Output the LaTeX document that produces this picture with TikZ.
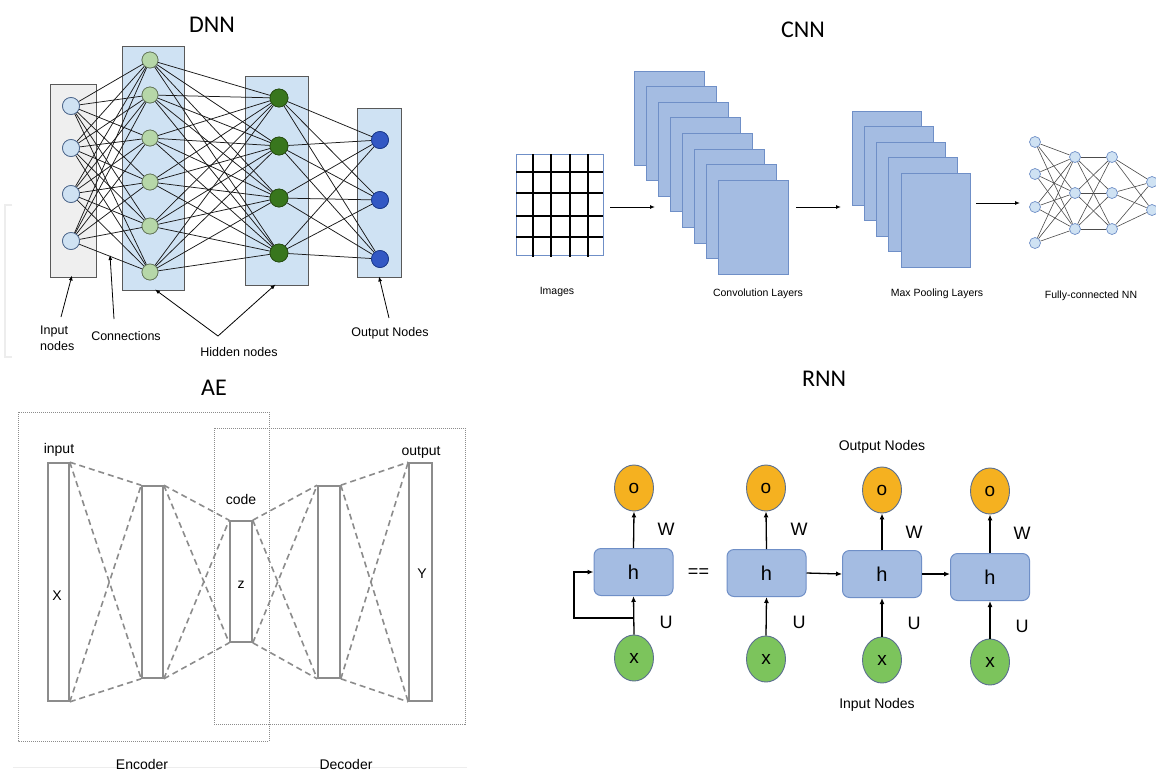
\documentclass[tikz,border=0pt]{standalone}
\usepackage{fontspec}
\setmainfont{Liberation Sans}
\newfontfamily\titlefont{Carlito}
\usetikzlibrary{arrows.meta,shapes.geometric}
\definecolor{dnnblue}{HTML}{CFE2F3}
\definecolor{dnngray}{HTML}{EFEFEF}
\definecolor{lgreen}{HTML}{B6D7A8}
\definecolor{dgreen}{HTML}{38761D}
\definecolor{dgreendraw}{HTML}{274E13}
\definecolor{oblue}{HTML}{3358C4}
\definecolor{obluedraw}{HTML}{1C3A8A}
\definecolor{nodedraw}{HTML}{4A6489}
\definecolor{layerfill}{HTML}{A4BCE2}
\definecolor{layerdraw}{HTML}{6F8FC7}
\definecolor{ofill}{HTML}{F5B120}
\definecolor{xfill}{HTML}{7CC45C}
\definecolor{ringc}{HTML}{5B6F8E}
\definecolor{aegray}{HTML}{8C8C8C}
\definecolor{faint}{HTML}{EDEDED}
\tikzset{
  ttl/.style={font=\titlefont\fontsize{24}{26}\selectfont, inner sep=0pt},
  dnnlab/.style={font=\fontsize{12.5}{14}\selectfont, inner sep=0pt},
  cnnlab/.style={font=\fontsize{10.5}{12}\selectfont, inner sep=0pt},
  aelab/.style={font=\fontsize{14}{16}\selectfont, inner sep=0pt},
  rnnlab/.style={font=\fontsize{14}{16}\selectfont, inner sep=0pt},
  rnnsym/.style={font=\fontsize{18}{20}\selectfont, inner sep=0pt},
  layerbox/.style={rectangle, draw=black!65, line width=0.9pt, inner sep=0pt},
  conn/.style={draw=black!90, line width=0.75pt},
  inode/.style={circle, draw=nodedraw, fill=dnnblue, line width=0.7pt, minimum size=17pt, inner sep=0pt},
  hnodeA/.style={circle, draw=black!45!lgreen, fill=lgreen, line width=0.7pt, minimum size=16pt, inner sep=0pt},
  hnodeB/.style={circle, draw=dgreendraw, fill=dgreen, line width=0.7pt, minimum size=18pt, inner sep=0pt},
  onode/.style={circle, draw=obluedraw, fill=oblue, line width=0.7pt, minimum size=17pt, inner sep=0pt},
  pointer/.style={draw=black, line width=0.8pt, -{Latex[length=5pt,width=4pt]}},
  fmap/.style={rectangle, draw=layerdraw, fill=layerfill, line width=0.8pt, inner sep=0pt},
  fcnode/.style={circle, draw=layerdraw, fill=dnnblue, line width=0.7pt, minimum size=11pt, inner sep=0pt},
  fcline/.style={draw=black!70, line width=0.6pt},
  cnnarrow/.style={draw=black, line width=1pt, -{Latex[length=5pt,width=4pt]}},
  aedot/.style={draw=black!45, line width=0.8pt, dash pattern=on 1pt off 1pt},
  aebar/.style={rectangle, draw=black!45, line width=1.6pt, fill=white, inner sep=0pt},
  aedash/.style={draw=aegray, line width=1.6pt, dash pattern=on 6pt off 4pt},
  ocirc/.style={ellipse, draw=ringc, fill=ofill, line width=0.9pt, minimum width=39pt, minimum height=46pt, inner sep=0pt, font=\fontsize{19}{20}\selectfont},
  xcirc/.style={ellipse, draw=ringc, fill=xfill, line width=0.9pt, minimum width=39pt, minimum height=46pt, inner sep=0pt, font=\fontsize{19}{20}\selectfont},
  hbox/.style={rectangle, rounded corners=7pt, draw=layerdraw, fill=layerfill, line width=1pt, minimum width=79pt, minimum height=47pt, inner sep=0pt, font=\fontsize{20}{22}\selectfont},
  rnnarrow/.style={draw=black, line width=1.3pt, -{Latex[length=6pt,width=5pt]}},
}
\begin{document}
\begin{tikzpicture}[x=1pt,y=-1pt]
\useasboundingbox (0,0) rectangle (1156,772);
\fill[white] (0,0) rectangle (1156,772);

% ---------------- faint page artefacts
\draw[faint, line width=1.5pt] (12,205) -- (5,205) -- (5,357) -- (12,357);
\draw[faint, line width=1pt] (13,767) -- (467,767);

% ================= DNN
\node[ttl] (tdnn) at (212,25) {DNN};
\node[layerbox, fill=dnngray, minimum width=46pt, minimum height=193pt] (inbox) at (73,180.5) {};
\node[layerbox, fill=dnnblue, minimum width=62pt, minimum height=244pt] (h1box) at (153,168) {};
\node[layerbox, fill=dnnblue, minimum width=63pt, minimum height=209pt] (h2box) at (276.5,180.5) {};
\node[layerbox, fill=dnnblue, minimum width=44pt, minimum height=169pt] (outbox) at (379,192.5) {};

\foreach \y [count=\i] in {106,148,194,241} \coordinate (ci\i) at (71,\y);
\foreach \y [count=\i] in {60,95,138,182,226,272} \coordinate (ca\i) at (150,\y);
\foreach \y [count=\i] in {98,146,198,253} \coordinate (cb\i) at (279,\y);
\foreach \y [count=\i] in {140,200,259} \coordinate (co\i) at (380,\y);

\foreach \i in {1,...,4} \node[inode] (i\i) at (ci\i) {};
\foreach \i in {1,...,6} \node[hnodeA] (a\i) at (ca\i) {};
\foreach \i in {1,...,4} \node[hnodeB] (b\i) at (cb\i) {};
\foreach \i in {1,...,3} \node[onode] (o\i) at (co\i) {};

\foreach \i in {1,...,4} \foreach \j in {1,...,6} \draw[conn] (i\i) -- (a\j);
\foreach \i in {1,...,6} \foreach \j in {1,...,4} \draw[conn] (a\i) -- (b\j);
\foreach \i in {1,...,4} \foreach \j in {1,...,3} \draw[conn] (b\i) -- (o\j);
% redraw node discs on top of the connections
\foreach \i in {1,...,4} \node[inode] at (ci\i) {};
\foreach \i in {1,...,6} \node[hnodeA] at (ca\i) {};
\foreach \i in {1,...,4} \node[hnodeB] at (cb\i) {};
\foreach \i in {1,...,3} \node[onode] at (co\i) {};

\node[dnnlab, align=left, anchor=west] (linput) at (40,338) {Input\\[2pt]nodes};
\node[dnnlab] (lconn) at (126,336) {Connections};
\node[dnnlab] (lhid) at (239,352) {Hidden nodes};
\node[dnnlab] (lout) at (390,333) {Output Nodes};
\coordinate (t1) at (61,317);
\coordinate (t2) at (114,319);
\coordinate (t3) at (218,336);
\coordinate (t4) at (389,318);
\coordinate (cgap) at (110,255);
\draw[pointer] (t1) -- ([xshift=-1pt,yshift=2pt]inbox.south);
\draw[pointer] (t2) -- (cgap);
\draw[pointer] (t3) -- ([xshift=2pt,yshift=1pt]h1box.south);
\draw[pointer] (t3) -- ([xshift=-1pt,yshift=1pt]h2box.south);
\draw[pointer] (t4) -- ([yshift=1pt]outbox.south);

% ================= CNN
\node[ttl] (tcnn) at (803,30) {CNN};
\node[rectangle, draw=layerdraw, line width=0.7pt, minimum width=87pt, minimum height=101pt, inner sep=0pt] (img) at (559.5,204.5) {};
\foreach \x in {533,551,570,588} \draw[black, line width=2pt] (\x,154) -- (\x,257);
\foreach \y in {172,193,216,237} \draw[black, line width=2pt] (516,\y) -- (603,\y);

\foreach \k in {0,...,7} \node[fmap, minimum width=70pt, minimum height=94pt] (cv\k) at ({669+12*\k},{118+15.6*\k}) {};
\foreach \k in {0,...,4} \node[fmap, minimum width=69pt, minimum height=94pt] (mp\k) at ({886.5+12.25*\k},{158+15.5*\k}) {};

\coordinate (a1s) at (610,207); \coordinate (a1e) at (655,207);
\coordinate (a2s) at (796,207); \coordinate (a2e) at (841,207);
\coordinate (a3s) at (976,203); \coordinate (a3e) at (1020,203);
\draw[cnnarrow] (a1s) -- (a1e);
\draw[cnnarrow] (a2s) -- (a2e);
\draw[cnnarrow] (a3s) -- (a3e);

\foreach \y [count=\i] in {142,174,207,243} \coordinate (fa\i) at (1035,\y);
\foreach \y [count=\i] in {157,193,229} \coordinate (fb\i) at (1075,\y);
\foreach \y [count=\i] in {157,193,229} \coordinate (fc\i) at (1112,\y);
\foreach \y [count=\i] in {182,210} \coordinate (fd\i) at (1152,\y);
\foreach \i in {1,...,4} \node[fcnode] (f1n\i) at (fa\i) {};
\foreach \i in {1,...,3} \node[fcnode] (f2n\i) at (fb\i) {};
\foreach \i in {1,...,3} \node[fcnode] (f3n\i) at (fc\i) {};
\foreach \i in {1,...,2} \node[fcnode] (f4n\i) at (fd\i) {};
\foreach \i in {1,...,4} \foreach \j in {1,...,3} \draw[fcline] (f1n\i) -- (f2n\j);
\foreach \i in {1,...,3} \foreach \j in {1,...,3} \draw[fcline] (f2n\i) -- (f3n\j);
\foreach \i in {1,...,3} \foreach \j in {1,...,2} \draw[fcline] (f3n\i) -- (f4n\j);

\node[cnnlab] (limg) at (557,292) {Images};
\node[cnnlab] (lconv) at (758,294) {Convolution Layers};
\node[cnnlab] (lpool) at (937,294) {Max Pooling Layers};
\node[cnnlab] (lfc) at (1091,296) {Fully-connected NN};

% ================= AE
\node[ttl] (tae) at (214,388) {AE};
\draw[aedot] (18,412) rectangle (269,741);
\draw[aedot] (214,428) rectangle (465,724);
\node[aebar, minimum width=21pt, minimum height=238pt] (ein) at (58.5,582) {};
\node[aebar, minimum width=21pt, minimum height=192pt] (eh) at (152.5,582) {};
\node[aebar, minimum width=22pt, minimum height=121pt] (ecode) at (241,581.5) {};
\node[aebar, minimum width=22pt, minimum height=192pt] (dh) at (329,582) {};
\node[aebar, minimum width=23pt, minimum height=238pt] (dout) at (420.5,582) {};
\foreach \p/\q in {ein/eh, eh/ecode, ecode/dh, dh/dout} {
  \draw[aedash] (\p.north east) -- (\q.north west);
  \draw[aedash] (\p.north east) -- (\q.south west);
  \draw[aedash] (\p.south east) -- (\q.north west);
  \draw[aedash] (\p.south east) -- (\q.south west);
}
\node[aelab] (linp) at (59,450) {input};
\node[aelab] (lX) at (57,596) {X};
\node[aelab] (lcode) at (241,499) {code};
\node[aelab] (lz) at (241,585) {z};
\node[aelab] (loutp) at (421,452) {output};
\node[aelab] (lY) at (422,574) {Y};
\node[aelab] (lenc) at (142,764) {Encoder};
\node[aelab] (ldec) at (346,764) {Decoder};

% ================= RNN
\node[ttl] (trnn) at (824,379) {RNN};
\node[ocirc] (ro1) at (634,488) {o};
\node[ocirc] (ro2) at (766,488) {o};
\node[ocirc] (ro3) at (882,490) {o};
\node[ocirc] (ro4) at (990,491) {o};
\node[hbox] (rh1) at (633.5,572) {h};
\node[hbox] (rh2) at (766.5,573) {h};
\node[hbox] (rh3) at (882,574) {h};
\node[hbox] (rh4) at (990,577) {h};
\node[xcirc] (rx1) at (634,658) {x};
\node[xcirc] (rx2) at (766,659) {x};
\node[xcirc] (rx3) at (882,660) {x};
\node[xcirc] (rx4) at (990,662) {x};
\foreach \i in {1,...,4} {
  \draw[rnnarrow] (rh\i.north) -- (ro\i.south);
  \draw[rnnarrow] (rx\i.north) -- (rh\i.south);
}
\draw[rnnarrow] (rh2.east) -- (rh3.west);
\draw[rnnarrow] (rh3.east) -- (rh3.east -| rh4.west);
\coordinate (loop) at (634,618);
\draw[rnnarrow] (loop) -- (574,618) |- (rh1.west);
\node[rnnsym] (eq) at (698.5,573) {==};
\node[rnnsym] (w1) at (666,529) {W};
\node[rnnsym] (w2) at (799,529) {W};
\node[rnnsym] (w3) at (914,532) {W};
\node[rnnsym] (w4) at (1022,533) {W};
\node[rnnsym] (u1) at (666,622) {U};
\node[rnnsym] (u2) at (799,622) {U};
\node[rnnsym] (u3) at (914,623) {U};
\node[rnnsym] (u4) at (1022,626) {U};
\node[rnnlab] (lon) at (882,447) {Output Nodes};
\node[rnnlab] (lin) at (877,705) {Input Nodes};
\end{tikzpicture}
\end{document}
